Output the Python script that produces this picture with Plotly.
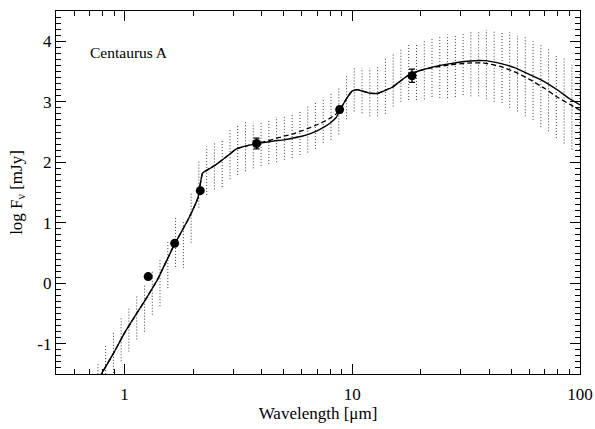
import plotly.graph_objects as go

# Photometry of Centaurus A: wavelength [um], log flux [mJy], error
obs_wavelength = [1.27, 1.66, 2.15, 3.8, 8.8, 18.3]
obs_logflux = [0.11, 0.66, 1.53, 2.31, 2.87, 3.43]
obs_error = [0.0, 0.0, 0.0, 0.09, 0.05, 0.11]

# Model SED, solid curve
model_wavelength = [0.75, 0.8, 0.9, 1.0, 1.25, 1.4, 1.65, 1.9, 2.1, 2.2, 2.5, 2.8,
                    3.1, 3.5, 4.0, 4.5, 5.0, 5.5, 6.0, 6.5, 7.0, 7.5, 8.0, 8.5,
                    9.0, 9.5, 10.0, 10.5, 11.0, 12.0, 13.0, 14.0, 15.0, 16.5, 18.0,
                    20.0, 23.0, 27.0, 32.0, 38.0, 45.0, 52.0, 60.0, 70.0, 80.0,
                    90.0, 100.0]
model_solid = [-1.66, -1.47, -1.14, -0.82, -0.24, 0.07, 0.63, 1.05, 1.41, 1.82,
               1.95, 2.09, 2.22, 2.28, 2.32, 2.35, 2.37, 2.40, 2.43, 2.47, 2.52,
               2.58, 2.65, 2.74, 2.92, 3.07, 3.18, 3.20, 3.18, 3.14, 3.14, 3.19,
               3.24, 3.36, 3.46, 3.52, 3.58, 3.63, 3.67, 3.68, 3.63, 3.56, 3.45,
               3.33, 3.19, 3.05, 2.95]
# Alternative model, dashed curve (same wavelength grid)
model_dashed = [-1.66, -1.47, -1.14, -0.82, -0.24, 0.07, 0.63, 1.05, 1.41, 1.82,
                1.95, 2.09, 2.22, 2.28, 2.33, 2.38, 2.43, 2.47, 2.52, 2.57, 2.62,
                2.67, 2.73, 2.80, 2.92, 3.07, 3.18, 3.20, 3.18, 3.14, 3.14, 3.19,
                3.24, 3.36, 3.46, 3.52, 3.57, 3.61, 3.64, 3.64, 3.58, 3.49, 3.37,
                3.22, 3.07, 2.96, 2.86]

# Model uncertainty range on its wavelength grid
band_wavelength = [0.764, 0.826, 0.894, 0.966, 1.045, 1.131, 1.224, 1.324, 1.431,
                   1.549, 1.675, 1.813, 1.961, 2.120, 2.294, 2.481, 2.685, 2.905,
                   3.140, 3.397, 3.676, 3.977, 4.302, 4.652, 5.032, 5.445, 5.891,
                   6.374, 6.889, 7.455, 8.065, 8.727, 9.441, 10.20, 11.04, 11.94,
                   12.92, 13.98, 15.12, 16.35, 17.69, 19.14, 20.72, 22.39, 24.23,
                   26.21, 28.36, 30.68, 33.17, 35.88, 38.82, 42.00, 45.45, 49.13,
                   53.15, 57.50, 62.22, 67.32, 72.75, 78.71, 85.17, 92.15, 99.70]
band_low = [-1.90, -1.60, -1.48, -1.29, -1.13, -0.93, -0.80, -0.52, -0.38, -0.08,
            0.27, 0.25, 0.67, 1.25, 1.46, 1.55, 1.59, 1.72, 1.79, 1.85, 1.90, 1.94,
            1.97, 2.00, 2.04, 2.07, 2.12, 2.16, 2.22, 2.32, 2.37, 2.46, 2.71, 2.84,
            2.81, 2.76, 2.76, 2.80, 2.92, 3.00, 3.03, 3.03, 3.04, 3.08, 3.06, 3.06,
            3.08, 3.11, 3.09, 3.09, 3.04, 3.00, 2.98, 2.90, 2.84, 2.76, 2.70, 2.58,
            2.51, 2.40, 2.31, 2.21, 2.20]
band_high = [-1.31, -1.02, -0.80, -0.58, -0.41, -0.19, -0.02, 0.22, 0.39, 0.69,
             1.08, 1.02, 1.49, 2.04, 2.26, 2.33, 2.38, 2.53, 2.60, 2.66, 2.65, 2.67,
             2.71, 2.75, 2.77, 2.80, 2.86, 2.93, 2.98, 3.07, 3.14, 3.22, 3.45, 3.58,
             3.56, 3.56, 3.60, 3.71, 3.78, 3.86, 3.94, 3.97, 4.01, 4.04, 4.08, 4.11,
             4.12, 4.15, 4.18, 4.16, 4.19, 4.16, 4.16, 4.15, 4.09, 4.07, 4.00, 3.96,
             3.87, 3.78, 3.72, 3.61, 3.53]

x_major = [1, 10, 100]
x_minor = [0.6, 0.7, 0.8, 0.9, 2, 3, 4, 5, 6, 7, 8, 9, 20, 30, 40, 50, 60, 70, 80, 90]
y_major = [-1, 0, 1, 2, 3, 4]

FONT = "Liberation Serif, Times New Roman, serif"

# vertical dotted segments, one per grid wavelength
seg_x, seg_y = [], []
for lam, lo, hi in zip(band_wavelength, band_low, band_high):
    seg_x += [lam, lam, None]
    seg_y += [lo, hi, None]

fig = go.Figure()
fig.add_trace(go.Scatter(x=seg_x, y=seg_y, mode="lines",
                         line=dict(color="#3a3a3a", width=1, dash="1px,2px"),
                         hoverinfo="skip", showlegend=False))
fig.add_trace(go.Scatter(x=model_wavelength, y=model_dashed, mode="lines",
                         line=dict(color="black", width=1.3, dash="5px,3px",
                                   shape="spline", smoothing=0.3),
                         showlegend=False))
fig.add_trace(go.Scatter(x=model_wavelength, y=model_solid, mode="lines",
                         line=dict(color="black", width=1.4,
                                   shape="spline", smoothing=0.3),
                         showlegend=False))
fig.add_trace(go.Scatter(x=obs_wavelength, y=obs_logflux, mode="markers",
                         marker=dict(color="black", size=9),
                         error_y=dict(type="data", array=obs_error, visible=True,
                                      color="black", thickness=1.3, width=3),
                         showlegend=False))

fig.add_annotation(x=0.062, y=0.885, xref="paper", yref="paper",
                   text="Centaurus A", showarrow=False, xanchor="left",
                   yanchor="middle", font=dict(family=FONT, size=15.5, color="black"))

axis_common = dict(showline=True, linecolor="black", linewidth=1.3, mirror="allticks",
                   ticks="inside", ticklen=10, tickwidth=1.1, tickcolor="black",
                   showgrid=False, zeroline=False, automargin=False,
                   tickfont=dict(family=FONT, size=17, color="black"))

fig.update_xaxes(type="log", range=[-0.301, 2.0], tickmode="array",
                 tickvals=x_major, ticktext=["1", "10", "100"],
                 ticklabelstandoff=4,
                 minor=dict(tickmode="array", tickvals=x_minor, ticks="inside",
                            ticklen=5, tickwidth=1, tickcolor="black", showgrid=False),
                 title=dict(text="Wavelength [μm]", standoff=4,
                            font=dict(family=FONT, size=17, color="black")),
                 **axis_common)
fig.update_yaxes(range=[-1.5, 4.5], tickmode="array", tickvals=y_major,
                 ticktext=[str(v) for v in y_major],
                 minor=dict(dtick=0.1, ticks="inside", ticklen=5, tickwidth=1,
                            tickcolor="black", showgrid=False),
                 title=dict(text="log F<sub>ν</sub> [mJy]", standoff=10,
                            font=dict(family=FONT, size=17, color="black")),
                 **axis_common)

fig.update_layout(width=595, height=429, margin=dict(l=56, r=15, t=11, b=55),
                  paper_bgcolor="white", plot_bgcolor="white",
                  font=dict(family=FONT, color="black"))

fig.write_html("out.html")
